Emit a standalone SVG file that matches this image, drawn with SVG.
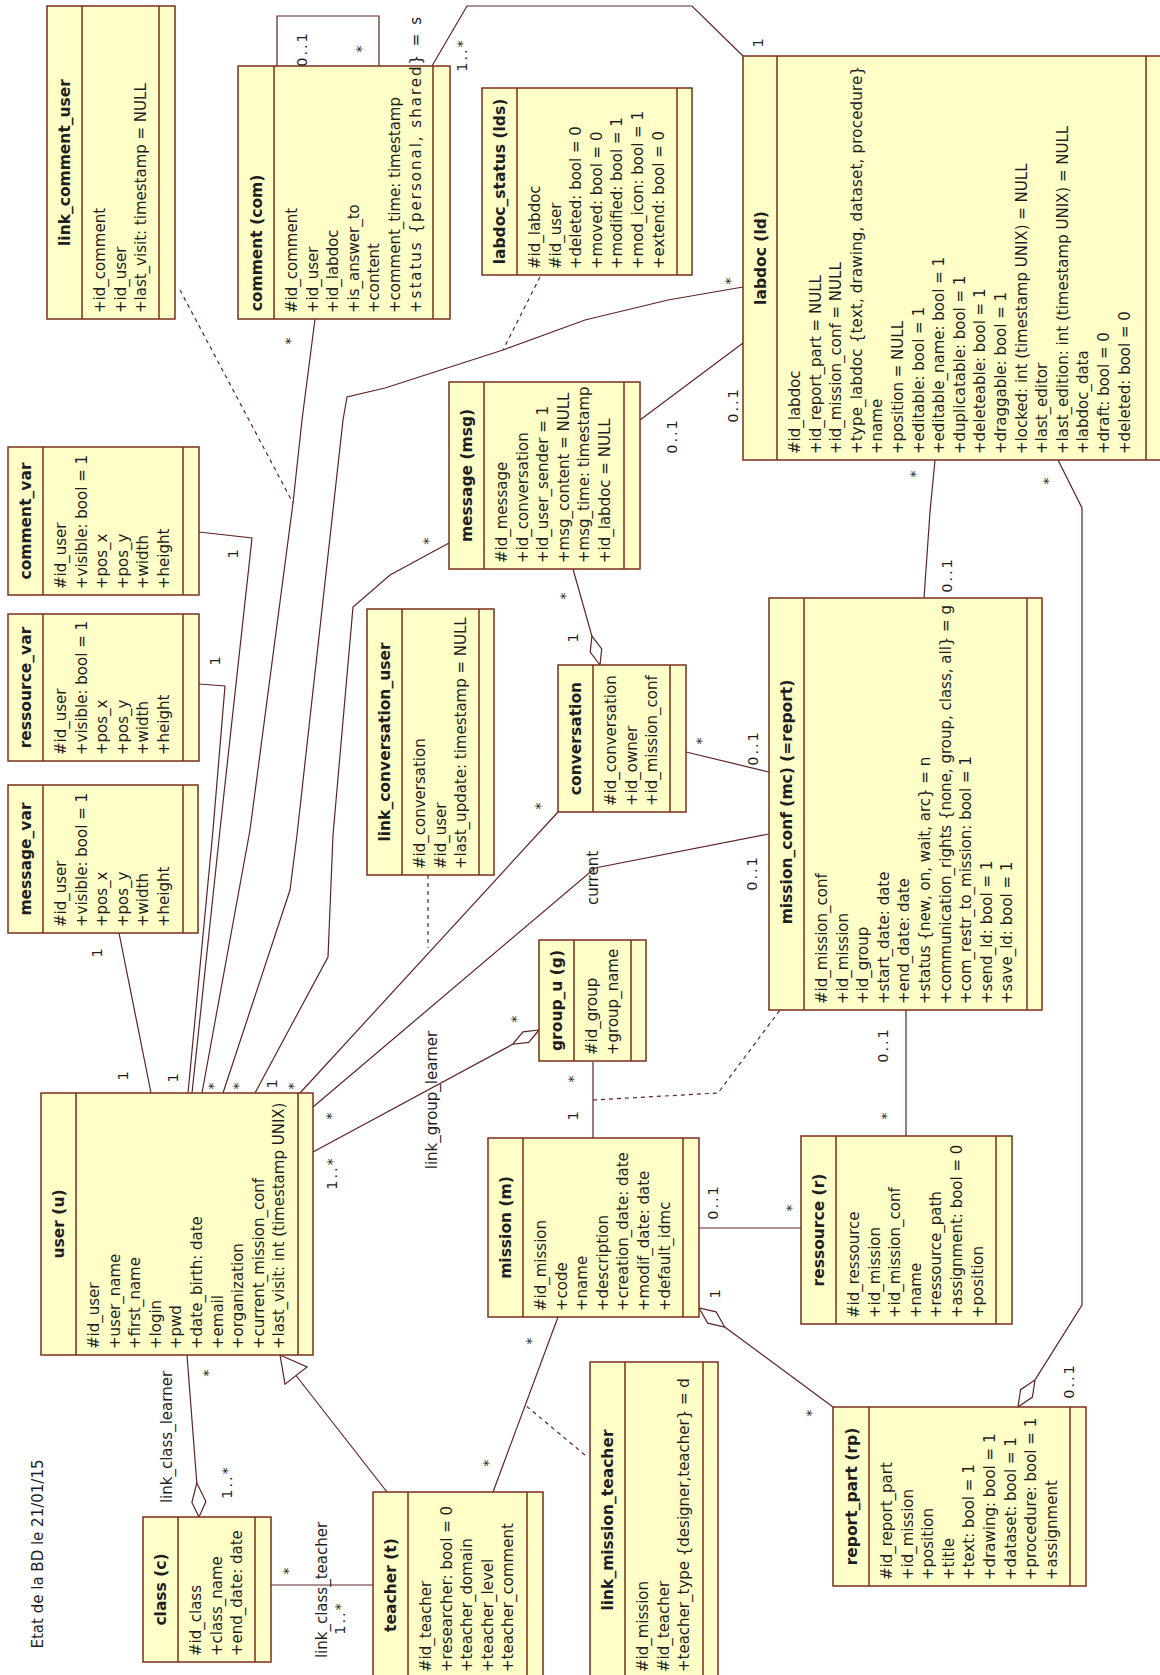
<svg xmlns="http://www.w3.org/2000/svg" width="1160" height="1675" viewBox="0 0 1160 1675">
<style>
.bg{fill:#ffffff}
.n rect{fill:#ffffc8;stroke:#7a2e1e;stroke-width:1.5}
.n line{stroke:#7a2e1e;stroke-width:1.5}
text{font-family:"DejaVu Sans",Verdana,sans-serif;fill:#1e1e1e}
.t{font-size:15.5px;font-weight:bold;text-anchor:middle}
.a{font-size:15px}
.m{font-size:14.5px;text-anchor:middle;letter-spacing:2px}
.s{font-size:15px;text-anchor:middle}
.c path,.c polyline,.c line{fill:none;stroke:#5e2424;stroke-width:1.2}
.c .d{stroke-dasharray:4 4}
.c polygon{fill:#ffffff;stroke:#5e2424;stroke-width:1.2}
</style>
<rect class="bg" x="0" y="0" width="1160" height="1675"/>

<g id="connectors" class="c">
  <polyline points="277,66 277,16 379,16 379,66"/>
  <polyline points="432,66 467,6 692,6 743,56"/>
  <polyline points="315,319 302,420 293,503 250,830 202,1093"/>
  <polyline points="743,287 668,300 585,320 503,350 385,388 347,397 343,420 297,835 290,890 223,1093"/>
  <polyline points="449,543 390,575 353,607 333,835 328,957 255,1093"/>
  <polyline points="199,684 225,686 213,830 188,1093"/>
  <polyline points="199,532 252,538 220,830 192,1093"/>
  <line x1="119" y1="933" x2="151" y2="1093"/>
  <line x1="558" y1="812" x2="300" y2="1093"/>
  <polyline points="769,834 595,868 313,1107"/>
  <line x1="512.6" y1="1044.3" x2="313" y2="1152"/>
  <polygon points="539,1030 528.7,1042.4 512.6,1044.3 523,1031.8"/>
  <line x1="743" y1="343" x2="640" y2="420"/>
  <line x1="573" y1="569" x2="591.9" y2="636.1"/>
  <polygon points="600,665 601.7,648.9 591.9,636.1 590.2,652.2"/>
  <line x1="686" y1="752" x2="769" y2="772"/>
  <polyline points="935,460 930,512 924,598"/>
  <polyline points="1058,460 1082,508 1082,1305 1035,1379.9"/>
  <polygon points="1018,1407 1032.4,1397.1 1035,1379.9 1020.6,1389.7"/>
  <line x1="906" y1="1010" x2="906" y2="1136"/>
  <line x1="699" y1="1228" x2="801" y2="1228"/>
  <line x1="593" y1="1062" x2="593" y2="1138"/>
  <line x1="558" y1="1317" x2="493" y2="1492"/>
  <line x1="724.7" y1="1327" x2="833" y2="1407"/>
  <polygon points="699,1308 707.7,1323.1 724.7,1327 716.1,1311.9"/>
  <line x1="296" y1="1375.5" x2="387" y2="1492"/>
  <polygon points="280,1355 307,1366.9 285,1384.1"/>
  <line x1="187" y1="1355" x2="196.8" y2="1483"/>
  <polygon points="199,1517 205.9,1501.6 196.8,1483 191.9,1502.4"/>
  <line x1="271" y1="1585" x2="373" y2="1585"/>
  <line class="d" x1="180" y1="290" x2="293" y2="503"/>
  <line class="d" x1="540" y1="277" x2="503" y2="350"/>
  <line class="d" x1="428" y1="875" x2="428" y2="948"/>
  <polyline class="d" points="593,1100 718,1093 780,1010"/>
  <line class="d" x1="585" y1="1455" x2="525" y2="1405"/>

  <text class="m" transform="translate(302,49) rotate(-90)" dy=".36em">0..1</text>
  <text class="m" transform="translate(358,48) rotate(-90)" dy=".58em">*</text>
  <text class="m" transform="translate(287,340) rotate(-90)" dy=".58em">*</text>
  <text class="m" transform="translate(462,55) rotate(-90)" dy=".36em">1..*</text>
  <text class="m" transform="translate(758,42) rotate(-90)" dy=".36em">1</text>
  <text class="m" transform="translate(727,280) rotate(-90)" dy=".58em">*</text>
  <text class="m" transform="translate(672,436) rotate(-90)" dy=".36em">0..1</text>
  <text class="m" transform="translate(733,405) rotate(-90)" dy=".36em">0..1</text>
  <text class="m" transform="translate(425,540) rotate(-90)" dy=".58em">*</text>
  <text class="m" transform="translate(562,595) rotate(-90)" dy=".58em">*</text>
  <text class="m" transform="translate(573,637) rotate(-90)" dy=".36em">1</text>
  <text class="m" transform="translate(537,805) rotate(-90)" dy=".58em">*</text>
  <text class="m" transform="translate(698,740) rotate(-90)" dy=".58em">*</text>
  <text class="m" transform="translate(753,748) rotate(-90)" dy=".36em">0..1</text>
  <text class="m" transform="translate(912,473) rotate(-90)" dy=".58em">*</text>
  <text class="m" transform="translate(947,575) rotate(-90)" dy=".36em">0..1</text>
  <text class="m" transform="translate(1045,480) rotate(-90)" dy=".58em">*</text>
  <text class="m" transform="translate(1069,1381) rotate(-90)" dy=".36em">0..1</text>
  <text class="m" transform="translate(883,1045) rotate(-90)" dy=".36em">0..1</text>
  <text class="m" transform="translate(883,1115) rotate(-90)" dy=".58em">*</text>
  <text class="m" transform="translate(713,1202) rotate(-90)" dy=".36em">0..1</text>
  <text class="m" transform="translate(788,1207) rotate(-90)" dy=".58em">*</text>
  <text class="m" transform="translate(752,873) rotate(-90)" dy=".36em">0..1</text>
  <text class="m" transform="translate(328,1115) rotate(-90)" dy=".58em">*</text>
  <text class="m" transform="translate(513,1018) rotate(-90)" dy=".58em">*</text>
  <text class="m" transform="translate(332,1173) rotate(-90)" dy=".36em">1..*</text>
  <text class="m" transform="translate(570,1078) rotate(-90)" dy=".58em">*</text>
  <text class="m" transform="translate(573,1115) rotate(-90)" dy=".36em">1</text>
  <text class="m" transform="translate(528,1340) rotate(-90)" dy=".58em">*</text>
  <text class="m" transform="translate(485,1462) rotate(-90)" dy=".58em">*</text>
  <text class="m" transform="translate(715,1293) rotate(-90)" dy=".36em">1</text>
  <text class="m" transform="translate(808,1412) rotate(-90)" dy=".58em">*</text>
  <text class="m" transform="translate(205,1372) rotate(-90)" dy=".58em">*</text>
  <text class="m" transform="translate(227,1482) rotate(-90)" dy=".36em">1..*</text>
  <text class="m" transform="translate(285,1570) rotate(-90)" dy=".58em">*</text>
  <text class="m" transform="translate(340,1618) rotate(-90)" dy=".36em">1..*</text>
  <text class="m" transform="translate(97,952) rotate(-90)" dy=".36em">1</text>
  <text class="m" transform="translate(123,1075) rotate(-90)" dy=".36em">1</text>
  <text class="m" transform="translate(215,660) rotate(-90)" dy=".36em">1</text>
  <text class="m" transform="translate(233,553) rotate(-90)" dy=".36em">1</text>
  <text class="m" transform="translate(173,1077) rotate(-90)" dy=".36em">1</text>
  <text class="m" transform="translate(210,1085) rotate(-90)" dy=".58em">*</text>
  <text class="m" transform="translate(235,1085) rotate(-90)" dy=".58em">*</text>
  <text class="m" transform="translate(272,1083) rotate(-90)" dy=".36em">1</text>
  <text class="m" transform="translate(290,1085) rotate(-90)" dy=".58em">*</text>
  <text class="s" transform="translate(167,1437) rotate(-90)" dy=".36em">link_class_learner</text>
  <text class="s" transform="translate(322,1590) rotate(-90)" dy=".36em">link_class_teacher</text>
  <text class="s" transform="translate(432,1100) rotate(-90)" dy=".36em">link_group_learner</text>
  <text class="s" transform="translate(593,878) rotate(-90)" dy=".36em">current</text>
</g>

<text class="s" transform="translate(38,1554) rotate(-90)" dy=".36em">Etat de la BD le 21/01/15</text>

<g id="link_comment_user" class="n" transform="translate(47,319) rotate(-90)">
  <rect width="313" height="128"/><line x1="0" y1="35" x2="313" y2="35"/><line x1="0" y1="112" x2="313" y2="112"/>
  <text class="t" x="156.5" y="23">link_comment_user</text>
  <text class="a" x="6" y="58">+id_comment</text>
  <text class="a" x="6" y="78.6">+id_user</text>
  <text class="a" x="6" y="99.2">+last_visit: timestamp = NULL</text>
</g>

<g id="comment" class="n" transform="translate(238,319) rotate(-90)">
  <rect width="253" height="212"/><line x1="0" y1="36" x2="253" y2="36"/><line x1="0" y1="195" x2="253" y2="195"/>
  <text class="t" x="76" y="23.5">comment (com)</text>
  <text class="a" x="6" y="59">#id_comment</text>
  <text class="a" x="6" y="79.6">+id_user</text>
  <text class="a" x="6" y="100.2">+id_labdoc</text>
  <text class="a" x="6" y="120.8">+is_answer_to</text>
  <text class="a" x="6" y="141.4">+content</text>
  <text class="a" x="6" y="162">+comment_time: timestamp</text>
  <text class="a" x="6" y="182.6" textLength="296" lengthAdjust="spacing">+status {personal, shared} = s</text>
</g>

<g id="labdoc_status" class="n" transform="translate(482,275) rotate(-90)">
  <rect width="187" height="210"/><line x1="0" y1="35" x2="187" y2="35"/><line x1="0" y1="195" x2="187" y2="195"/>
  <text class="t" x="93.5" y="23">labdoc_status (lds)</text>
  <text class="a" x="6" y="58">#id_labdoc</text>
  <text class="a" x="6" y="78.6">#id_user</text>
  <text class="a" x="6" y="99.2">+deleted: bool = 0</text>
  <text class="a" x="6" y="119.8">+moved: bool = 0</text>
  <text class="a" x="6" y="140.4">+modified: bool = 1</text>
  <text class="a" x="6" y="161">+mod_icon: bool = 1</text>
  <text class="a" x="6" y="181.6">+extend: bool = 0</text>
</g>

<g id="labdoc" class="n" transform="translate(743,460) rotate(-90)">
  <rect width="404" height="420"/><line x1="0" y1="34" x2="404" y2="34"/><line x1="0" y1="403" x2="404" y2="403"/>
  <text class="t" x="202" y="22.5">labdoc (ld)</text>
  <text class="a" x="6" y="57">#id_labdoc</text>
  <text class="a" x="6" y="77.6">+id_report_part = NULL</text>
  <text class="a" x="6" y="98.2">+id_mission_conf = NULL</text>
  <text class="a" x="6" y="118.8" textLength="388" lengthAdjust="spacing">+type_labdoc {text, drawing, dataset, procedure}</text>
  <text class="a" x="6" y="139.4">+name</text>
  <text class="a" x="6" y="160">+position = NULL</text>
  <text class="a" x="6" y="180.6">+editable: bool = 1</text>
  <text class="a" x="6" y="201.2">+editable_name: bool = 1</text>
  <text class="a" x="6" y="221.8">+duplicatable: bool = 1</text>
  <text class="a" x="6" y="242.4">+deleteable: bool = 1</text>
  <text class="a" x="6" y="263">+draggable: bool = 1</text>
  <text class="a" x="6" y="283.6">+locked: int (timestamp UNIX) = NULL</text>
  <text class="a" x="6" y="304.2">+last_editor</text>
  <text class="a" x="6" y="324.8">+last_edition: int (timestamp UNIX) = NULL</text>
  <text class="a" x="6" y="345.4">+labdoc_data</text>
  <text class="a" x="6" y="366">+draft: bool = 0</text>
  <text class="a" x="6" y="386.6">+deleted: bool = 0</text>
</g>

<g id="comment_var" class="n" transform="translate(8,595) rotate(-90)">
  <rect width="148" height="191"/><line x1="0" y1="35" x2="148" y2="35"/><line x1="0" y1="175" x2="148" y2="175"/>
  <text class="t" x="74" y="23">comment_var</text>
  <text class="a" x="6" y="58">#id_user</text>
  <text class="a" x="6" y="78.6">+visible: bool = 1</text>
  <text class="a" x="6" y="99.2">+pos_x</text>
  <text class="a" x="6" y="119.8">+pos_y</text>
  <text class="a" x="6" y="140.4">+width</text>
  <text class="a" x="6" y="161">+height</text>
</g>

<g id="ressource_var" class="n" transform="translate(8,761) rotate(-90)">
  <rect width="147" height="191"/><line x1="0" y1="35" x2="147" y2="35"/><line x1="0" y1="175" x2="147" y2="175"/>
  <text class="t" x="73.5" y="23">ressource_var</text>
  <text class="a" x="6" y="58">#id_user</text>
  <text class="a" x="6" y="78.6">+visible: bool = 1</text>
  <text class="a" x="6" y="99.2">+pos_x</text>
  <text class="a" x="6" y="119.8">+pos_y</text>
  <text class="a" x="6" y="140.4">+width</text>
  <text class="a" x="6" y="161">+height</text>
</g>

<g id="message_var" class="n" transform="translate(8,933) rotate(-90)">
  <rect width="148" height="190"/><line x1="0" y1="35" x2="148" y2="35"/><line x1="0" y1="175" x2="148" y2="175"/>
  <text class="t" x="74" y="23">message_var</text>
  <text class="a" x="6" y="58">#id_user</text>
  <text class="a" x="6" y="78.6">+visible: bool = 1</text>
  <text class="a" x="6" y="99.2">+pos_x</text>
  <text class="a" x="6" y="119.8">+pos_y</text>
  <text class="a" x="6" y="140.4">+width</text>
  <text class="a" x="6" y="161">+height</text>
</g>

<g id="message" class="n" transform="translate(449,569) rotate(-90)">
  <rect width="187" height="191"/><line x1="0" y1="35" x2="187" y2="35"/><line x1="0" y1="175" x2="187" y2="175"/>
  <text class="t" x="93.5" y="23">message (msg)</text>
  <text class="a" x="6" y="58">#id_message</text>
  <text class="a" x="6" y="78.6">+id_conversation</text>
  <text class="a" x="6" y="99.2">+id_user_sender = 1</text>
  <text class="a" x="6" y="119.8">+msg_content = NULL</text>
  <text class="a" x="6" y="140.4">+msg_time: timestamp</text>
  <text class="a" x="6" y="161">+id_labdoc = NULL</text>
</g>

<g id="link_conversation_user" class="n" transform="translate(367,875) rotate(-90)">
  <rect width="266" height="127"/><line x1="0" y1="35" x2="266" y2="35"/><line x1="0" y1="112" x2="266" y2="112"/>
  <text class="t" x="133" y="23">link_conversation_user</text>
  <text class="a" x="6" y="58">#id_conversation</text>
  <text class="a" x="6" y="78.6">#id_user</text>
  <text class="a" x="6" y="99.2">+last_update: timestamp = NULL</text>
</g>

<g id="conversation" class="n" transform="translate(558,812) rotate(-90)">
  <rect width="147" height="128"/><line x1="0" y1="35" x2="147" y2="35"/><line x1="0" y1="112" x2="147" y2="112"/>
  <text class="t" x="73.5" y="23">conversation</text>
  <text class="a" x="6" y="58">#id_conversation</text>
  <text class="a" x="6" y="78.6">+id_owner</text>
  <text class="a" x="6" y="99.2">+id_mission_conf</text>
</g>

<g id="mission_conf" class="n" transform="translate(769,1010) rotate(-90)">
  <rect width="412" height="273"/><line x1="0" y1="35" x2="412" y2="35"/><line x1="0" y1="258" x2="412" y2="258"/>
  <text class="t" x="208" y="23">mission_conf (mc) (=report)</text>
  <text class="a" x="6" y="58">#id_mission_conf</text>
  <text class="a" x="6" y="78.6">+id_mission</text>
  <text class="a" x="6" y="99.2">+id_group</text>
  <text class="a" x="6" y="119.8">+start_date: date</text>
  <text class="a" x="6" y="140.4">+end_date: date</text>
  <text class="a" x="6" y="161">+status {new, on, wait, arc} = n</text>
  <text class="a" x="6" y="181.6">+communication_rights {none, group, class, all} = g</text>
  <text class="a" x="6" y="202.2">+com_restr_to_mission: bool = 1</text>
  <text class="a" x="6" y="222.8">+send_ld: bool = 1</text>
  <text class="a" x="6" y="243.4">+save_ld: bool = 1</text>
</g>

<g id="group_u" class="n" transform="translate(539,1061) rotate(-90)">
  <rect width="121" height="107"/><line x1="0" y1="35" x2="121" y2="35"/><line x1="0" y1="92" x2="121" y2="92"/>
  <text class="t" x="60.5" y="23">group_u (g)</text>
  <text class="a" x="6" y="58">#id_group</text>
  <text class="a" x="6" y="78.6">+group_name</text>
</g>

<g id="user" class="n" transform="translate(41,1355) rotate(-90)">
  <rect width="262" height="272"/><line x1="0" y1="35" x2="262" y2="35"/><line x1="0" y1="257" x2="262" y2="257"/>
  <text class="t" x="131" y="23">user (u)</text>
  <text class="a" x="6" y="58">#id_user</text>
  <text class="a" x="6" y="78.6">+user_name</text>
  <text class="a" x="6" y="99.2">+first_name</text>
  <text class="a" x="6" y="119.8">+login</text>
  <text class="a" x="6" y="140.4">+pwd</text>
  <text class="a" x="6" y="161">+date_birth: date</text>
  <text class="a" x="6" y="181.6">+email</text>
  <text class="a" x="6" y="202.2">+organization</text>
  <text class="a" x="6" y="222.8">+current_mission_conf</text>
  <text class="a" x="6" y="243.4">+last_visit: int (timestamp UNIX)</text>
</g>

<g id="mission" class="n" transform="translate(488,1317) rotate(-90)">
  <rect width="179" height="211"/><line x1="0" y1="35" x2="179" y2="35"/><line x1="0" y1="195" x2="179" y2="195"/>
  <text class="t" x="89.5" y="23">mission (m)</text>
  <text class="a" x="6" y="58">#id_mission</text>
  <text class="a" x="6" y="78.6">+code</text>
  <text class="a" x="6" y="99.2">+name</text>
  <text class="a" x="6" y="119.8">+description</text>
  <text class="a" x="6" y="140.4">+creation_date: date</text>
  <text class="a" x="6" y="161">+modif_date: date</text>
  <text class="a" x="6" y="181.6">+default_idmc</text>
</g>

<g id="ressource" class="n" transform="translate(801,1324) rotate(-90)">
  <rect width="188" height="211"/><line x1="0" y1="35" x2="188" y2="35"/><line x1="0" y1="195" x2="188" y2="195"/>
  <text class="t" x="94" y="23">ressource (r)</text>
  <text class="a" x="6" y="58">#id_ressource</text>
  <text class="a" x="6" y="78.6">+id_mission</text>
  <text class="a" x="6" y="99.2">+id_mission_conf</text>
  <text class="a" x="6" y="119.8">+name</text>
  <text class="a" x="6" y="140.4">+ressource_path</text>
  <text class="a" x="6" y="161">+assignment: bool = 0</text>
  <text class="a" x="6" y="181.6">+position</text>
</g>

<g id="class" class="n" transform="translate(143,1662) rotate(-90)">
  <rect width="145" height="128"/><line x1="0" y1="35" x2="145" y2="35"/><line x1="0" y1="112" x2="145" y2="112"/>
  <text class="t" x="72.5" y="23">class (c)</text>
  <text class="a" x="6" y="58">#id_class</text>
  <text class="a" x="6" y="78.6">+class_name</text>
  <text class="a" x="6" y="99.2">+end_date: date</text>
</g>

<g id="teacher" class="n" transform="translate(373,1678) rotate(-90)">
  <rect width="186" height="170"/><line x1="0" y1="35" x2="186" y2="35"/><line x1="0" y1="154" x2="186" y2="154"/>
  <text class="t" x="93" y="23">teacher (t)</text>
  <text class="a" x="6" y="58">#id_teacher</text>
  <text class="a" x="6" y="78.6">+researcher: bool = 0</text>
  <text class="a" x="6" y="99.2">+teacher_domain</text>
  <text class="a" x="6" y="119.8">+teacher_level</text>
  <text class="a" x="6" y="140.4">+teacher_comment</text>
</g>

<g id="link_mission_teacher" class="n" transform="translate(590,1678) rotate(-90)">
  <rect width="316" height="128"/><line x1="0" y1="35" x2="316" y2="35"/><line x1="0" y1="113" x2="316" y2="113"/>
  <text class="t" x="158" y="23">link_mission_teacher</text>
  <text class="a" x="6" y="58">#id_mission</text>
  <text class="a" x="6" y="78.6">#id_teacher</text>
  <text class="a" x="6" y="99.2">+teacher_type {designer,teacher} = d</text>
</g>

<g id="report_part" class="n" transform="translate(833,1586) rotate(-90)">
  <rect width="179" height="253"/><line x1="0" y1="36" x2="179" y2="36"/><line x1="0" y1="237" x2="179" y2="237"/>
  <text class="t" x="89.5" y="23.5">report_part (rp)</text>
  <text class="a" x="6" y="59">#id_report_part</text>
  <text class="a" x="6" y="79.6">+id_mission</text>
  <text class="a" x="6" y="100.2">+position</text>
  <text class="a" x="6" y="120.8">+title</text>
  <text class="a" x="6" y="141.4">+text: bool = 1</text>
  <text class="a" x="6" y="162">+drawing: bool = 1</text>
  <text class="a" x="6" y="182.6">+dataset: bool = 1</text>
  <text class="a" x="6" y="203.2">+procedure: bool = 1</text>
  <text class="a" x="6" y="223.8">+assignment</text>
</g>
</svg>
